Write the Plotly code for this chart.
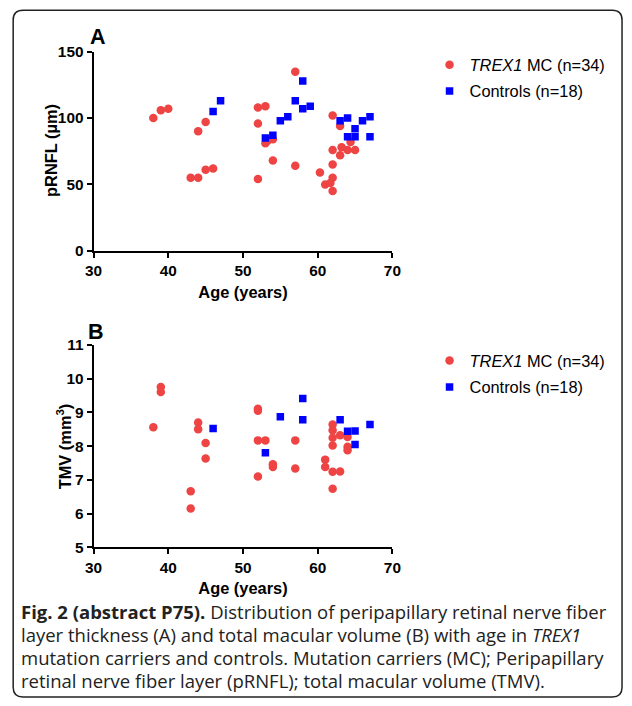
import re
import plotly.graph_objects as go

# ---- Data ----
# Panel A: pRNFL (µm) vs age
a_mc_age = [38, 39, 40, 44, 45, 43, 44, 45, 46,
            57, 52, 53, 52, 53, 53.3, 54, 54, 52, 57,
            62, 63, 64.4, 63.2, 64, 65, 62, 63, 62, 60.3, 62, 61, 61.7, 62]
a_mc_val = [100, 106, 107, 90, 97, 55, 55, 61, 62,
            135, 108, 109, 96, 81, 83, 84, 68, 54, 64,
            102, 94, 82, 78, 76, 76, 76, 72, 65, 59, 55, 50, 51, 45]
a_ct_age = [46, 47, 58, 57, 58, 59, 55, 56, 53, 54, 63, 64, 66, 67, 67, 65, 64, 65]
a_ct_val = [105, 113, 128, 113, 107, 109, 98, 101, 85, 87, 98, 100, 98, 101, 86, 92, 86, 86]

# Panel B: TMV (mm3) vs age
b_mc_age = [38, 39, 39, 44, 44, 45, 45, 43, 43,
            52, 52, 52, 53, 57, 54, 54, 57, 52,
            62, 62, 62, 62, 63, 64, 64, 64, 61, 61, 62, 63, 62]
b_mc_val = [8.56, 9.75, 9.6, 8.7, 8.5, 8.09, 7.63, 6.66, 6.15,
            9.11, 9.05, 8.17, 8.17, 8.17, 7.46, 7.38, 7.34, 7.1,
            8.64, 8.47, 8.25, 8.02, 8.32, 8.27, 7.98, 7.88, 7.6, 7.38, 7.24, 7.25, 6.74]
b_ct_age = [46, 58, 55, 58, 63, 67, 64, 65, 65, 53]
b_ct_val = [8.52, 9.41, 8.87, 8.78, 8.78, 8.64, 8.44, 8.45, 8.05, 7.8]

mc_label = "<i>TREX1</i> MC (n=34)"
ct_label = "Controls (n=18)"
x_ticks = [30, 40, 50, 60, 70]
a_ticks = [0, 50, 100, 150]
b_ticks = [5, 6, 7, 8, 9, 10, 11]
x_title = "Age (years)"
a_title = "pRNFL (µm)"
b_title = "TMV (mm<sup>3</sup>)"

caption_lines = [
    "<b>Fig. 2 (abstract P75).</b> Distribution of peripapillary retinal nerve fiber",
    "layer thickness (A) and total macular volume (B) with age in <i>TREX1</i>",
    "mutation carriers and controls. Mutation carriers (MC); Peripapillary",
    "retinal nerve fiber layer (pRNFL); total macular volume (TMV).",
]

W, H = 632, 706
RED = "#EE4444"
BLUE = "#0000FF"
AX_FONT = "Liberation Sans, Arial, sans-serif"

# The captured page shows the figure with an 8px page margin, scaled to fit;
# map target picture pixels to figure pixels.
SX = W / (W + 16)
SY = H / (H + 16)
K = 1 / SX


def fxp(X):
    return X / SX - 8


def fyp(Y):
    return Y / SY - 8


def fx(X):
    return fxp(X) / W


def fy(Y):
    return 1 - fyp(Y) / H


fig = go.Figure()


def add_scatter(x, y, name, color, symbol, size, xa, ya, legend):
    fig.add_trace(go.Scatter(
        x=x, y=y, mode="markers", name=name,
        marker=dict(color=color, symbol=symbol, size=size, line=dict(width=0)),
        xaxis=xa, yaxis=ya, legend=legend, legendgroup=name + legend,
        showlegend=True, hoverinfo="x+y"))


add_scatter(a_mc_age, a_mc_val, mc_label, RED, "circle", 8.5, "x", "y", "legend")
add_scatter(a_ct_age, a_ct_val, ct_label, BLUE, "square", 7.5, "x", "y", "legend")
add_scatter(b_mc_age, b_mc_val, mc_label, RED, "circle", 8.5, "x2", "y2", "legend2")
add_scatter(b_ct_age, b_ct_val, ct_label, BLUE, "square", 7.5, "x2", "y2", "legend2")

common_ax = dict(
    showgrid=False, zeroline=False, showline=True, linecolor="black", linewidth=2,
    ticks="outside", ticklen=5, tickwidth=2, tickcolor="black",
    tickfont=dict(family=AX_FONT, size=15 * K, color="black", weight="bold"),
)
title_font = dict(family=AX_FONT, size=16 * K, color="black")
xdom = [fx(92.7), fx(392.7)]
leg_font = dict(family=AX_FONT, size=16 * K, color="black")
leg_x = (fxp(449) - 19.5) / W
fig.update_layout(
    width=W, height=H, margin=dict(l=0, r=0, t=0, b=0),
    paper_bgcolor="white", plot_bgcolor="white",
    xaxis=dict(domain=xdom, range=[30, 70], tickvals=x_ticks, anchor="y",
               title=dict(text=f"<b>{x_title}</b>", standoff=8, font=title_font),
               **common_ax),
    yaxis=dict(domain=[fy(250), fy(50.7)], range=[0, 150], tickvals=a_ticks, anchor="x",
               **common_ax),
    xaxis2=dict(domain=xdom, range=[30, 70], tickvals=x_ticks, anchor="y2",
                title=dict(text=f"<b>{x_title}</b>", standoff=8, font=title_font),
                **common_ax),
    yaxis2=dict(domain=[fy(547.3), fy(344.3)], range=[5, 11], tickvals=b_ticks, anchor="x2",
                **common_ax),
    legend=dict(x=leg_x, y=1 - (fyp(64) - 18) / H, xanchor="left", yanchor="top",
                traceorder="grouped", tracegroupgap=2, bgcolor="rgba(0,0,0,0)",
                font=leg_font),
    legend2=dict(x=leg_x, y=1 - (fyp(360.5) - 18) / H, xanchor="left", yanchor="top",
                 traceorder="grouped", tracegroupgap=2, bgcolor="rgba(0,0,0,0)",
                 font=leg_font),
    showlegend=True,
)

# y-axis titles (rotated annotations)
for txt, x, y in [(a_title, 50, 150), (b_title, 63, 446)]:
    fig.add_annotation(text=f"<b>{txt}</b>", x=fx(x), y=fy(y), xref="paper", yref="paper",
                       showarrow=False, xanchor="center", yanchor="middle", textangle=-90,
                       font=title_font)

# panel letters
for letter, x, y in [("A", 97, 36), ("B", 95, 331)]:
    fig.add_annotation(text=f"<b>{letter}</b>", x=fx(x), y=fy(y), xref="paper", yref="paper",
                       showarrow=False, xanchor="center", yanchor="middle",
                       font=dict(family=AX_FONT, size=21 * K, color="black"))

# caption
cap_y = [612, 635, 658, 681]
for line, y in zip(caption_lines, cap_y):
    fig.add_annotation(text=line, x=fx(18), y=fy(y), xref="paper", yref="paper",
                       showarrow=False, xanchor="left", yanchor="middle",
                       font=dict(family="Open Sans, Noto Sans, sans-serif", size=18.5,
                                 color="#222222"))

# rounded border (figure pixel coordinates)
x0, y0 = fxp(12), max(fyp(9), 1.0)
x1, y1 = min(fxp(630), W - 1), min(fyp(703), H - 1)
r = 10
path = (f"M {x0+r},{y0} L {x1-r},{y0} Q {x1},{y0} {x1},{y0+r} L {x1},{y1-r} "
        f"Q {x1},{y1} {x1-r},{y1} L {x0+r},{y1} Q {x0},{y1} {x0},{y1-r} "
        f"L {x0},{y0+r} Q {x0},{y0} {x0+r},{y0} Z")


def conv(m):
    xx, yy = float(m.group(1)), float(m.group(2))
    return f"{xx / W:.5f},{1 - yy / H:.5f}"


ppath = re.sub(r"([\d.]+),([\d.]+)", conv, path)
fig.add_shape(type="path", path=ppath, xref="paper", yref="paper",
              line=dict(color="#222222", width=1.5), fillcolor="rgba(0,0,0,0)")

fig.write_html("out.html")
